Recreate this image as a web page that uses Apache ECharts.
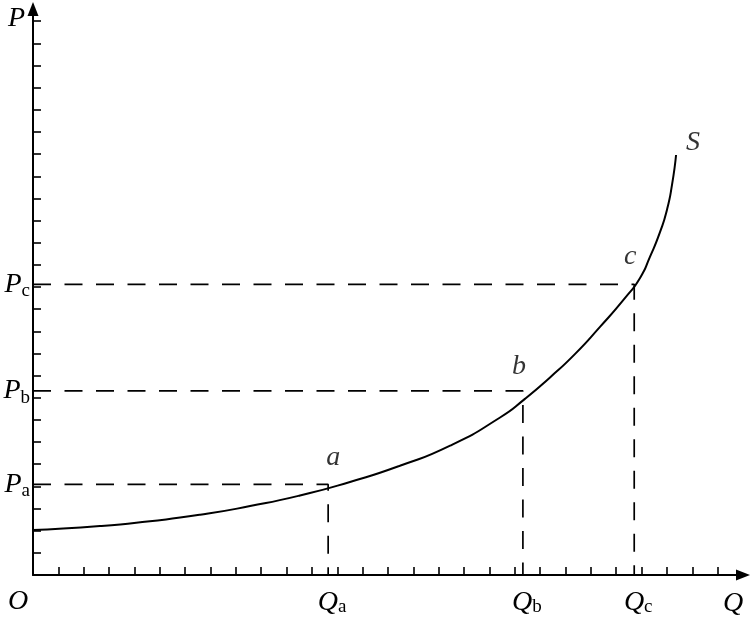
<!DOCTYPE html>
<html><head><meta charset="utf-8">
<script src="https://cdn.jsdelivr.net/npm/echarts@6/dist/echarts.min.js"></script>
<style>html,body{margin:0;padding:0;background:#fff}#c{width:752px;height:623px}</style>
</head><body><div id="c"></div>
<script>
// Supply curve S (quantity Q, price P)
const curveQ = [0, 2.64, 4.61, 6.59, 8.56, 10.53, 12.50, 14.47, 16.45, 18.42, 19.40, 20.39, 21.38, 22.36, 23.35, 23.94, 24.33, 24.73, 25.00, 25.20, 25.36];
const curveP = [2.03, 2.21, 2.43, 2.72, 3.11, 3.59, 4.20, 4.93, 5.84, 7.11, 7.95, 8.92, 9.98, 11.20, 12.51, 13.41, 14.36, 15.49, 16.48, 17.61, 18.96];
// Marked points a, b, c
const pointNames = ['a', 'b', 'c'];
const pointQ = [11.64, 19.32, 23.71];
const pointP = [4.09, 8.31, 13.12];
const curveName = 'S';
// Axis ticks
const xTicks = [1,2,3,4,5,6,7,8,9,10,11,12,13,14,15,16,17,18,19,20,21,22,23,24,25,26,27];
const yTicks = [1,2,3,4,5,6,7,8,9,10,11,12,13,14,15,16,17,18,19,20,21,22,23,24,25];
const xMax = 28;
const yMax = 25.55;

const FONT = '"Liberation Serif", "Times New Roman", serif';
const big = { fontFamily: FONT, fontStyle: 'italic', fontSize: 28, color: '#000' };
const sub = { fontFamily: FONT, fontStyle: 'normal', fontSize: 19, color: '#000' };

const curveData = curveQ.map((q, i) => [q, curveP[i]]);
const guideSeries = pointNames.map((n, i) => ({
  type: 'line', name: 'guide-' + n, silent: true, symbol: 'none',
  data: [[0, pointP[i]], [pointQ[i], pointP[i]], [pointQ[i], 0]],
  lineStyle: { color: '#000', width: 1.7, type: [18, 13.5] }, z: 2
}));
const labelOffsets = { a: [5, -27], b: [-4, -24], c: [-4, -28], S: [17, -12] };
const labelData = pointNames.map((n, i) => ({ name: n, value: [pointQ[i], pointP[i]], label: { offset: labelOffsets[n] } }));
labelData.push({ name: curveName, value: curveData[curveData.length - 1], label: { offset: labelOffsets[curveName] } });

function idxOf(arr, v) { let b = 0; for (let i = 1; i < arr.length; i++) if (Math.abs(arr[i] - v) < Math.abs(arr[b] - v)) b = i; return b; }

const chart = echarts.init(document.getElementById('c'), null, { renderer: 'canvas' });
chart.setOption({
  animation: false,
  backgroundColor: '#fff',
  grid: { left: 33, right: 9, top: 9, bottom: 48, containLabel: false, outerBoundsMode: 'none' },
  xAxis: {
    type: 'value', min: 0, max: xMax, interval: 1,
    name: 'Q', nameLocation: 'end', nameGap: -10,
    nameTextStyle: Object.assign({}, big, { align: 'center', verticalAlign: 'top', padding: [15, 0, 0, 0] }),
    axisLine: { show: true, onZero: false, symbol: ['none', 'triangle'], symbolSize: [11, 14], lineStyle: { color: '#000', width: 2 } },
    axisTick: { show: true, inside: true, length: 8, customValues: xTicks, lineStyle: { color: '#000', width: 1.6 } },
    axisLabel: {
      show: true, margin: 13, customValues: [0].concat(pointQ),
      formatter: function (v) {
        if (v === 0) return '{o|O}';
        return '{q|Q}{s|' + pointNames[idxOf(pointQ, v)] + '}';
      },
      rich: {
        o: Object.assign({}, big, { padding: [0, 30, 0, 0] }),
        q: Object.assign({}, big, { padding: [0, 0, 0, 8] }),
        s: Object.assign({}, sub, { padding: [10, 0, 0, 0] })
      }
    },
    splitLine: { show: false }
  },
  yAxis: {
    type: 'value', min: 0, max: yMax, interval: 1,
    name: 'P', nameLocation: 'end', nameGap: -10,
    nameTextStyle: Object.assign({}, big, { align: 'right', verticalAlign: 'middle', padding: [0, 8, 0, 0] }),
    axisLine: { show: true, onZero: false, symbol: ['none', 'triangle'], symbolSize: [11, 14], lineStyle: { color: '#000', width: 2 } },
    axisTick: { show: true, inside: true, length: 8, customValues: yTicks, lineStyle: { color: '#000', width: 1.6 } },
    axisLabel: {
      show: true, margin: 3, customValues: pointP,
      formatter: function (v) {
        return '{p|P}{s|' + pointNames[idxOf(pointP, v)] + '}';
      },
      rich: {
        p: Object.assign({}, big),
        s: Object.assign({}, sub, { padding: [14, 0, 0, 0] })
      }
    },
    splitLine: { show: false }
  },
  series: guideSeries.concat([
    {
      type: 'line', name: curveName, data: curveData, smooth: 0.6,
      symbol: 'none', silent: true, lineStyle: { color: '#000', width: 2 }, z: 3
    },
    {
      type: 'scatter', name: 'labels', data: labelData, symbolSize: 0, silent: true, z: 4,
      label: { show: true, position: 'inside', formatter: '{b}', fontFamily: FONT, fontStyle: 'italic', fontSize: 28, color: '#000' }
    }
  ])
});
</script></body></html>
